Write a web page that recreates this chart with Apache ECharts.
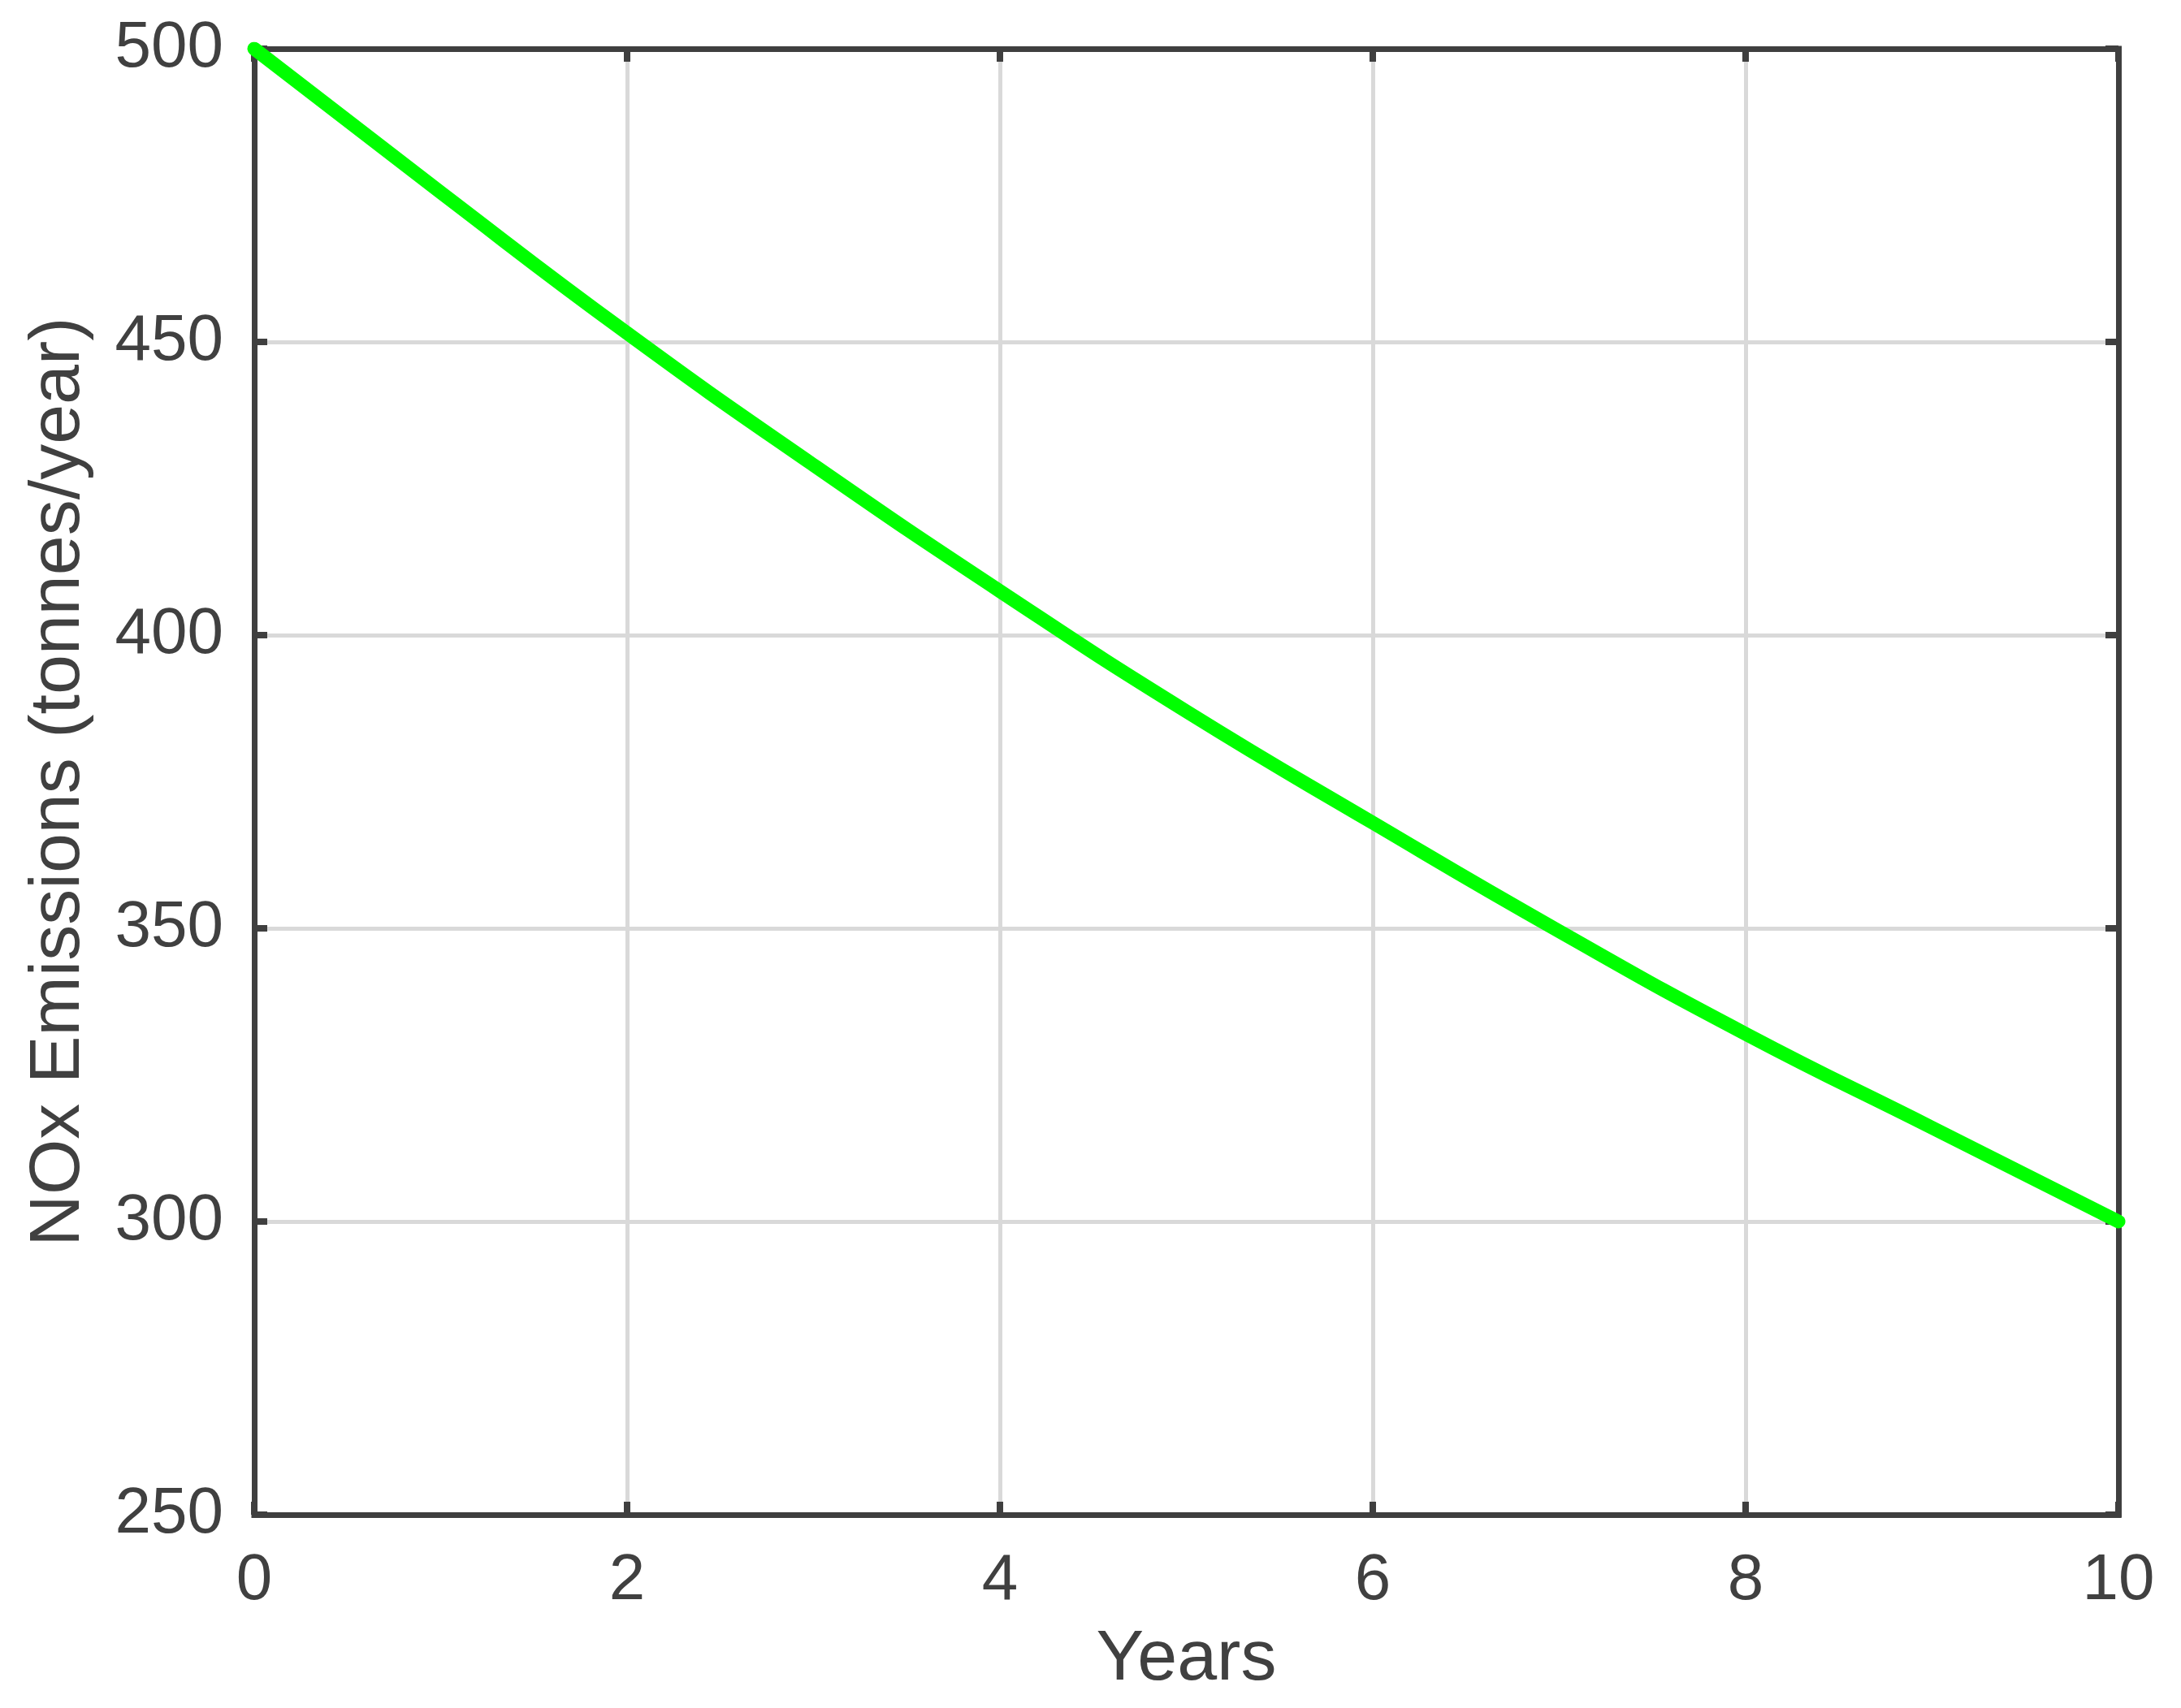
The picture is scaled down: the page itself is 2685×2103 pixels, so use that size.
<!DOCTYPE html>
<html>
<head>
<meta charset="utf-8">
<script src="https://cdn.jsdelivr.net/npm/echarts@6/dist/echarts.min.js"></script>
<style>
html,body{margin:0;padding:0;background:#fff;}
#chart{width:2685px;height:2103px;}
</style>
</head>
<body>
<div id="chart"></div>
<script>
const years = [0, 1, 2, 3, 4, 5, 6, 7, 8, 9, 10];
const noxEmissions = [500, 475.5, 451.5, 429, 407.5, 387, 368, 349.5, 332, 316, 300];
const xAxisTitle = 'Years';
const yAxisTitle = 'NOx Emissions (tonnes/year)';

const chart = echarts.init(document.getElementById('chart'), null, {renderer: 'canvas'});
const font = 'Liberation Sans, Arial, sans-serif';
const frameColor = '#3f3f3f';
const gridColor = '#d9d9d9';
const textColor = '#404040';

const baseX = {min: 0, max: 10, interval: 2};
const baseY = {min: 250, max: 500, interval: 50};
function frameLine() { return {show: true, onZero: false, lineStyle: {color: frameColor, width: 7, cap: 'square'}}; }
function tick() { return {show: true, inside: true, length: 16, lineStyle: {color: frameColor, width: 8}}; }

chart.setOption({
  animation: false,
  backgroundColor: '#ffffff',
  grid: {left: 313, right: 77, top: 60, bottom: 238, show: false},
  xAxis: [
    Object.assign({
      type: 'value', position: 'bottom',
      name: xAxisTitle, nameLocation: 'middle', nameGap: 135,
      nameTextStyle: {fontFamily: font, fontSize: 88, color: textColor},
      axisLine: frameLine(),
      axisTick: tick(),
      axisLabel: {fontFamily: font, fontSize: 80, color: textColor, margin: 42},
      splitLine: {show: true, lineStyle: {color: gridColor, width: 5}}
    }, baseX),
    Object.assign({
      type: 'value', position: 'top',
      axisLine: frameLine(),
      axisTick: tick(),
      axisLabel: {show: false},
      splitLine: {show: false}
    }, baseX)
  ],
  yAxis: [
    Object.assign({
      type: 'value', position: 'left',
      name: yAxisTitle, nameLocation: 'middle', nameGap: 196,
      nameTextStyle: {fontFamily: font, fontSize: 88, color: textColor},
      axisLine: frameLine(),
      axisTick: tick(),
      axisLabel: {fontFamily: font, fontSize: 80, color: textColor, margin: 38},
      splitLine: {show: true, lineStyle: {color: gridColor, width: 5}}
    }, baseY),
    Object.assign({
      type: 'value', position: 'right',
      axisLine: frameLine(),
      axisTick: tick(),
      axisLabel: {show: false},
      splitLine: {show: false}
    }, baseY)
  ],
  series: [{
    type: 'line',
    xAxisIndex: 0, yAxisIndex: 0,
    data: years.map((y, i) => [y, noxEmissions[i]]),
    smooth: true,
    showSymbol: false,
    lineStyle: {color: '#00ff00', width: 17, cap: 'round', join: 'round'},
    z: 5
  }]
});
</script>
</body>
</html>
